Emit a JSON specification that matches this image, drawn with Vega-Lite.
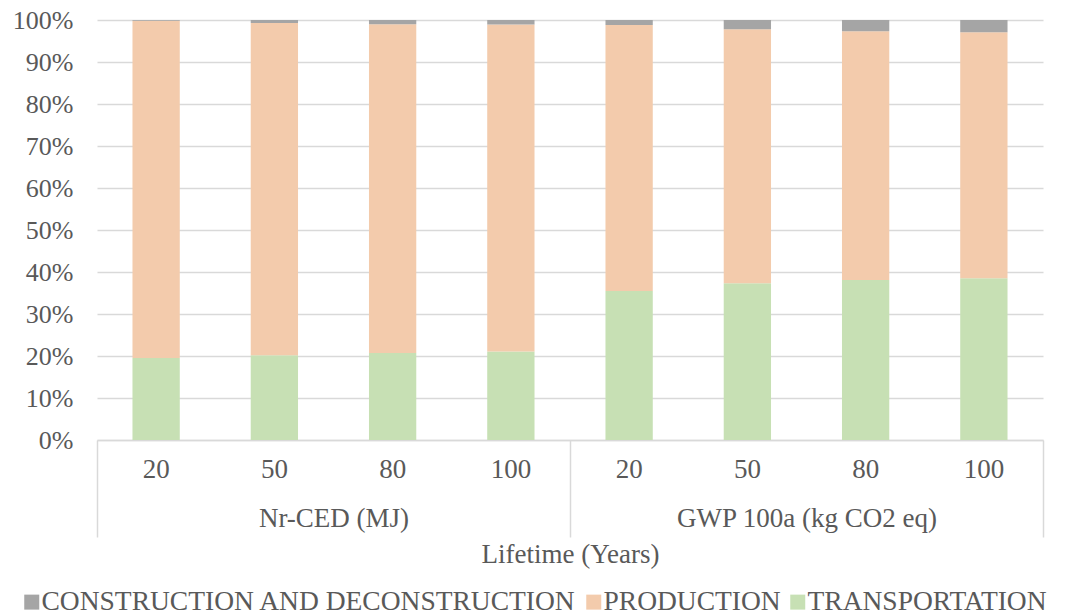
{
  "$schema": "https://vega.github.io/schema/vega-lite/v6.json",
  "width": 946,
  "height": 420,
  "autosize": {"type": "none"},
  "padding": {"left": 97, "top": 20, "right": 23, "bottom": 176},
  "background": "white",
  "config": {
    "view": {"stroke": null},
    "font": "Liberation Serif"
  },
  "data": {
    "values": [
      {"indicator": "Nr-CED (MJ)", "lifetime": "20", "component": "TRANSPORTATION", "value": 19.5},
      {"indicator": "Nr-CED (MJ)", "lifetime": "20", "component": "PRODUCTION", "value": 80.3},
      {"indicator": "Nr-CED (MJ)", "lifetime": "20", "component": "CONSTRUCTION AND DECONSTRUCTION", "value": 0.2},
      {"indicator": "Nr-CED (MJ)", "lifetime": "50", "component": "TRANSPORTATION", "value": 20.2},
      {"indicator": "Nr-CED (MJ)", "lifetime": "50", "component": "PRODUCTION", "value": 79.1},
      {"indicator": "Nr-CED (MJ)", "lifetime": "50", "component": "CONSTRUCTION AND DECONSTRUCTION", "value": 0.7},
      {"indicator": "Nr-CED (MJ)", "lifetime": "80", "component": "TRANSPORTATION", "value": 20.7},
      {"indicator": "Nr-CED (MJ)", "lifetime": "80", "component": "PRODUCTION", "value": 78.3},
      {"indicator": "Nr-CED (MJ)", "lifetime": "80", "component": "CONSTRUCTION AND DECONSTRUCTION", "value": 1.0},
      {"indicator": "Nr-CED (MJ)", "lifetime": "100", "component": "TRANSPORTATION", "value": 21.1},
      {"indicator": "Nr-CED (MJ)", "lifetime": "100", "component": "PRODUCTION", "value": 77.8},
      {"indicator": "Nr-CED (MJ)", "lifetime": "100", "component": "CONSTRUCTION AND DECONSTRUCTION", "value": 1.1},
      {"indicator": "GWP 100a (kg CO2 eq)", "lifetime": "20", "component": "TRANSPORTATION", "value": 35.5},
      {"indicator": "GWP 100a (kg CO2 eq)", "lifetime": "20", "component": "PRODUCTION", "value": 63.3},
      {"indicator": "GWP 100a (kg CO2 eq)", "lifetime": "20", "component": "CONSTRUCTION AND DECONSTRUCTION", "value": 1.2},
      {"indicator": "GWP 100a (kg CO2 eq)", "lifetime": "50", "component": "TRANSPORTATION", "value": 37.3},
      {"indicator": "GWP 100a (kg CO2 eq)", "lifetime": "50", "component": "PRODUCTION", "value": 60.5},
      {"indicator": "GWP 100a (kg CO2 eq)", "lifetime": "50", "component": "CONSTRUCTION AND DECONSTRUCTION", "value": 2.2},
      {"indicator": "GWP 100a (kg CO2 eq)", "lifetime": "80", "component": "TRANSPORTATION", "value": 38.1},
      {"indicator": "GWP 100a (kg CO2 eq)", "lifetime": "80", "component": "PRODUCTION", "value": 59.2},
      {"indicator": "GWP 100a (kg CO2 eq)", "lifetime": "80", "component": "CONSTRUCTION AND DECONSTRUCTION", "value": 2.7},
      {"indicator": "GWP 100a (kg CO2 eq)", "lifetime": "100", "component": "TRANSPORTATION", "value": 38.5},
      {"indicator": "GWP 100a (kg CO2 eq)", "lifetime": "100", "component": "PRODUCTION", "value": 58.6},
      {"indicator": "GWP 100a (kg CO2 eq)", "lifetime": "100", "component": "CONSTRUCTION AND DECONSTRUCTION", "value": 2.9}
    ]
  },
  "layer": [
    {
      "mark": {"type": "bar"},
      "encoding": {
        "x": {
          "field": "indicator",
          "type": "nominal",
          "scale": {"domain": ["Nr-CED (MJ)", "GWP 100a (kg CO2 eq)"], "paddingInner": 0, "paddingOuter": 0},
          "axis": {
            "title": "Lifetime (Years)",
            "labelAngle": 0,
            "tickBand": "extent",
            "tickSize": 97,
            "tickColor": "#D9D9D9",
            "tickWidth": 1.5,
            "domainColor": "#D9D9D9",
            "domainWidth": 1.5,
            "labelPadding": -32,
            "labelFont": "Liberation Serif",
            "labelFontSize": 27,
            "labelColor": "#595959",
            "labelLimit": 500,
            "titleFont": "Liberation Serif",
            "titleFontSize": 27,
            "titleColor": "#595959",
            "titleFontWeight": "normal",
            "titlePadding": 4
          }
        },
        "xOffset": {
          "field": "lifetime",
          "type": "nominal",
          "scale": {"domain": ["20", "50", "80", "100"], "paddingInner": 0.6, "paddingOuter": 0.3}
        },
        "y": {
          "field": "value",
          "type": "quantitative",
          "stack": "normalize",
          "scale": {"domain": [0, 1]},
          "axis": {
            "title": null,
            "values": [0, 0.1, 0.2, 0.3, 0.4, 0.5, 0.6, 0.7, 0.8, 0.9, 1],
            "format": ".0%",
            "domain": false,
            "ticks": false,
            "labelPadding": 24,
            "labelFont": "Liberation Serif",
            "labelFontSize": 26,
            "labelColor": "#595959",
            "gridColor": "#D9D9D9",
            "gridWidth": 1.5
          }
        },
        "color": {
          "field": "component",
          "type": "nominal",
          "scale": {
            "domain": ["CONSTRUCTION AND DECONSTRUCTION", "PRODUCTION", "TRANSPORTATION"],
            "range": ["#A5A5A5", "#F3CBAC", "#C7E0B4"]
          },
          "legend": {
            "title": null,
            "orient": "none",
            "direction": "horizontal",
            "legendX": -79,
            "legendY": 568,
            "symbolType": "square",
            "symbolSize": 225,
            "symbolStrokeWidth": 0,
            "labelFont": "Liberation Serif",
            "labelFontSize": 27.5,
            "labelColor": "#595959",
            "labelOffset": -4,
            "columnPadding": 3,
            "labelLimit": 800
          }
        },
        "order": {"field": "component", "sort": "descending"}
      }
    },
    {
      "transform": [{"filter": "datum.component === 'PRODUCTION'"}],
      "mark": {"type": "text", "fontSize": 27, "font": "Liberation Serif", "color": "#595959", "baseline": "middle"},
      "encoding": {
        "x": {"field": "indicator", "type": "nominal"},
        "xOffset": {"field": "lifetime", "type": "nominal"},
        "y": {"datum": -0.072},
        "text": {"field": "lifetime"}
      }
    }
  ]
}
